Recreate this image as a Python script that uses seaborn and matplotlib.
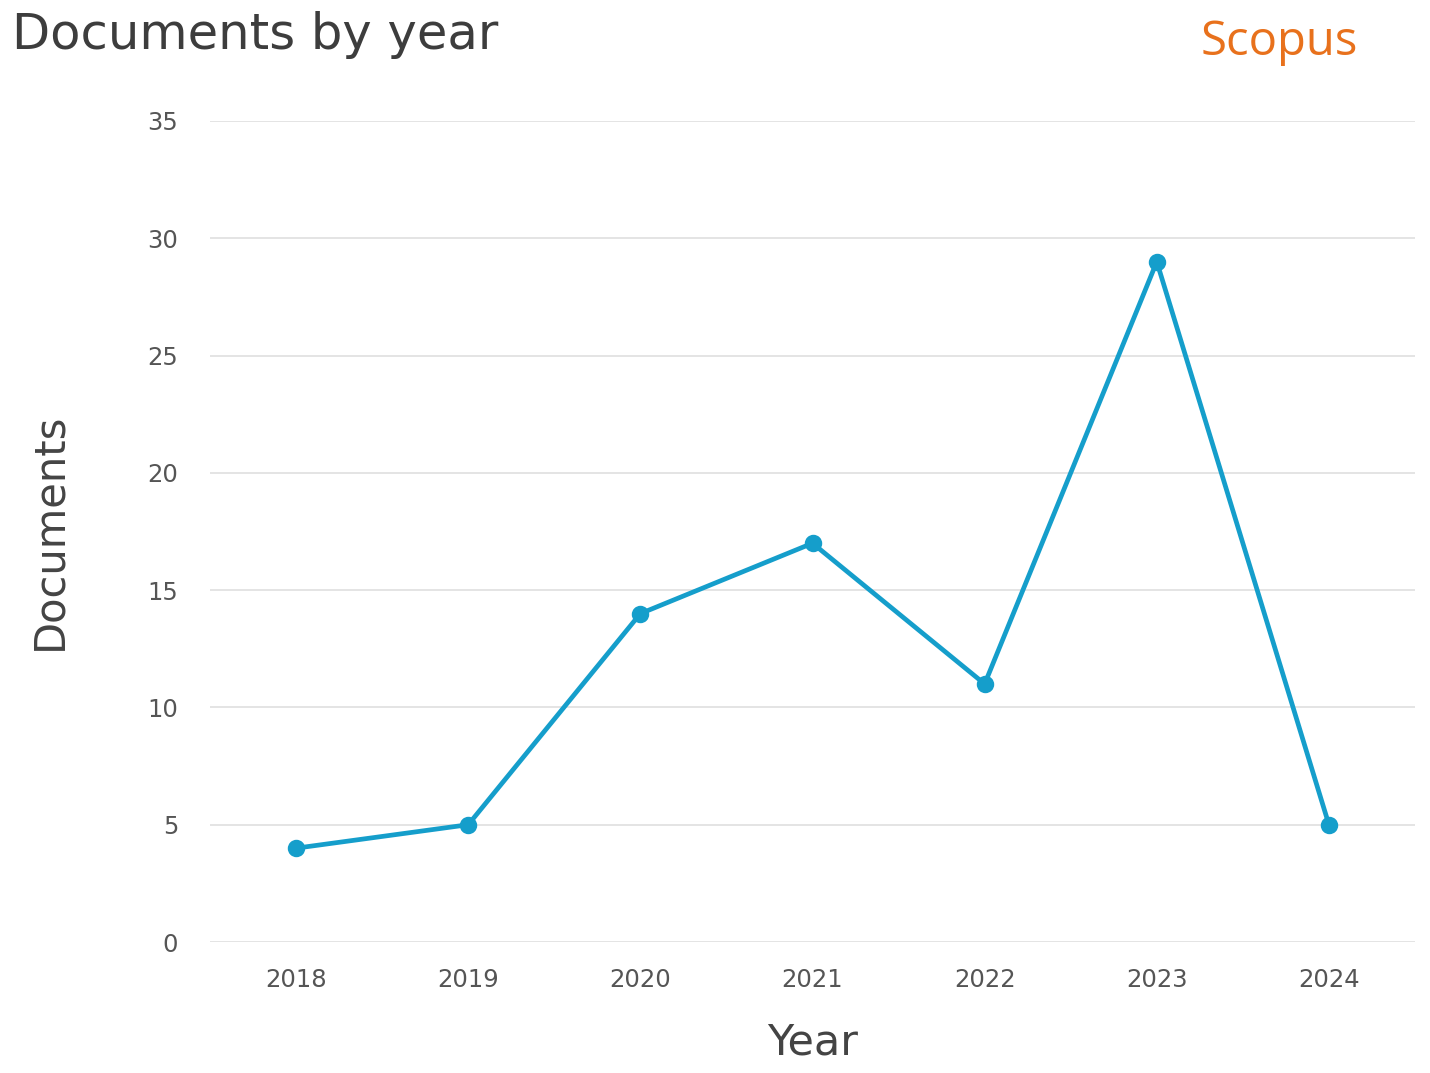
import matplotlib
matplotlib.use("Agg")
import matplotlib.pyplot as plt
import seaborn as sns
import pandas as pd

# === Data ===
years = ["2018", "2019", "2020", "2021", "2022", "2023", "2024"]
documents = [4, 5, 14, 17, 11, 29, 5]
y_ticks = [0, 5, 10, 15, 20, 25, 30, 35]

df = pd.DataFrame({"Year": years, "Documents": documents})

sns.set_theme(style="white")
plt.rcParams['font.family'] = ['DejaVu Sans']

fig = plt.figure(figsize=(14.3, 10.73), dpi=100)
ax = fig.add_axes([210 / 1430, 1 - 942 / 1073, 1205 / 1430, 821 / 1073])

line_color = "#159ecb"
sns.pointplot(data=df, x="Year", y="Documents", ax=ax, color=line_color,
              markers="o", markersize=10, linewidth=3.4, errorbar=None)

ax.set_ylim(0, 35)
ax.set_xlim(-0.5, 6.5)
ax.set_yticks(y_ticks)
ax.yaxis.grid(True, color="#e2e2e2", linewidth=1.3)
ax.set_axisbelow(True)
for s in ax.spines.values():
    s.set_visible(False)

ax.tick_params(axis="both", length=0, labelsize=17.5, labelcolor="#555555")
ax.tick_params(axis="y", pad=23)
ax.tick_params(axis="x", pad=19)

ax.set_xlabel("Year", fontsize=31, color="#444444", labelpad=21)
ax.set_ylabel("Documents", fontsize=30, color="#444444", labelpad=55)

fig.text(12 / 1430, 1 - 35 / 1073, "Documents by year", fontsize=35.7,
         color="#3d3d3d", va="center", ha="left")
fig.text(1358 / 1430, 1 - 42 / 1073, "Scopus", fontsize=34, color="#e8711c",
         va="center", ha="right", family=["Open Sans", "DejaVu Sans"])

fig.savefig("out.png", dpi=100, facecolor="white")
